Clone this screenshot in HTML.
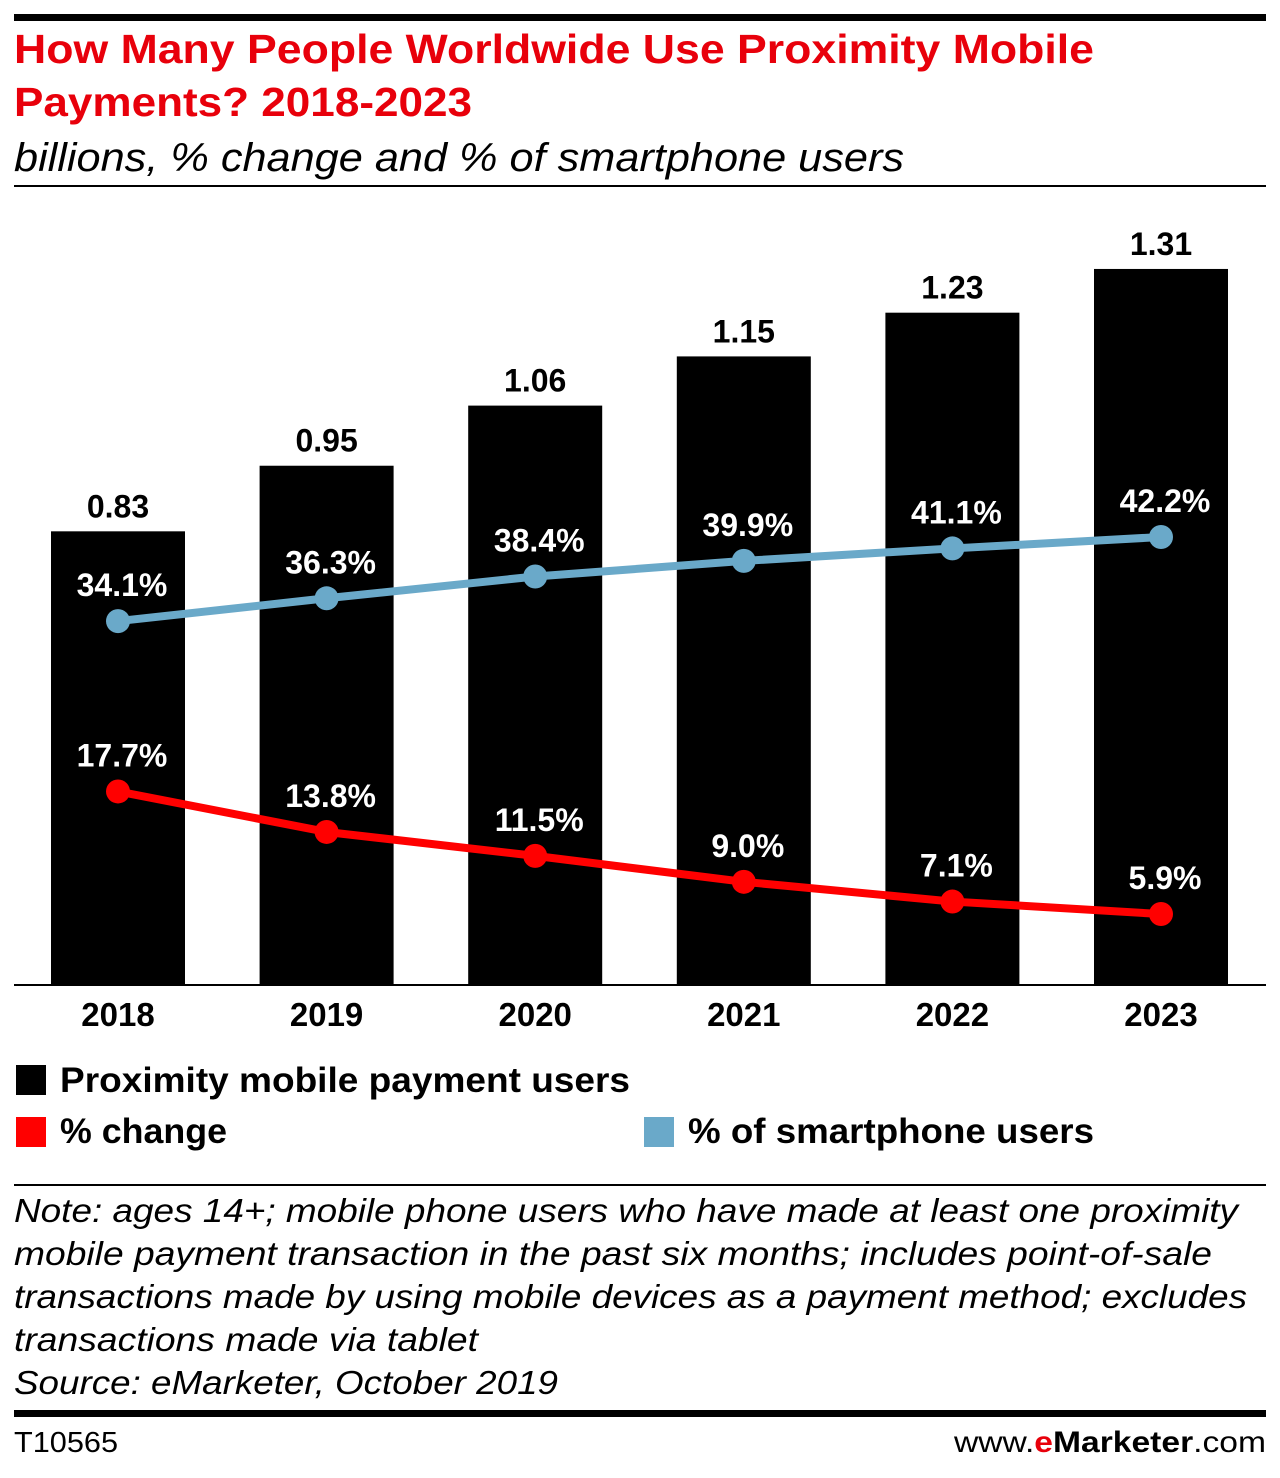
<!DOCTYPE html>
<html><head><meta charset="utf-8"><style>
body{margin:0;background:#fff}
svg{display:block;font-family:"Liberation Sans","DejaVu Sans",sans-serif}
</style></head><body>
<svg id="chart" width="1280" height="1478" viewBox="0 0 1280 1478" xmlns="http://www.w3.org/2000/svg">
<rect x="14" y="14" width="1252" height="7" fill="#000"/>
<text x="14" y="63" font-size="41" font-weight="bold" fill="#e8000b" textLength="1080" lengthAdjust="spacingAndGlyphs">How Many People Worldwide Use Proximity Mobile</text>
<text x="14" y="116" font-size="41" font-weight="bold" fill="#e8000b" textLength="458" lengthAdjust="spacingAndGlyphs">Payments? 2018-2023</text>
<text x="14" y="171" font-size="40" font-style="italic" fill="#000" textLength="890" lengthAdjust="spacingAndGlyphs">billions, % change and % of smartphone users</text>
<rect x="14" y="185" width="1252" height="2" fill="#000"/>
<g id="plot"></g>
<rect x="14" y="984" width="1252" height="2" fill="#000"/>
<rect x="16" y="1065" width="30" height="30" fill="#000"/>
<text x="60" y="1092" font-size="35" font-weight="bold" textLength="570" lengthAdjust="spacingAndGlyphs">Proximity mobile payment users</text>
<rect x="16" y="1117" width="30" height="30" fill="#ff0000"/>
<text x="60" y="1143" font-size="35" font-weight="bold" textLength="167" lengthAdjust="spacingAndGlyphs">% change</text>
<rect x="644" y="1117" width="30" height="30" fill="#6aa9c9"/>
<text x="688" y="1143" font-size="35" font-weight="bold" textLength="406" lengthAdjust="spacingAndGlyphs">% of smartphone users</text>
<rect x="14" y="1184" width="1252" height="2" fill="#000"/>
<g font-size="33" font-style="italic" fill="#000">
<text x="14" y="1222" textLength="1224" lengthAdjust="spacingAndGlyphs">Note: ages 14+; mobile phone users who have made at least one proximity</text>
<text x="14" y="1265" textLength="1198" lengthAdjust="spacingAndGlyphs">mobile payment transaction in the past six months; includes point-of-sale</text>
<text x="14" y="1308" textLength="1233" lengthAdjust="spacingAndGlyphs">transactions made by using mobile devices as a payment method; excludes</text>
<text x="14" y="1351" textLength="464" lengthAdjust="spacingAndGlyphs">transactions made via tablet</text>
<text x="14" y="1394" textLength="544" lengthAdjust="spacingAndGlyphs">Source: eMarketer, October 2019</text>
</g>
<rect x="14" y="1410" width="1252" height="7" fill="#000"/>
<text x="14" y="1452" font-size="29" textLength="104" lengthAdjust="spacingAndGlyphs">T10565</text>
<text x="1266" y="1452" font-size="30" text-anchor="end" textLength="312" lengthAdjust="spacingAndGlyphs">www.<tspan fill="#e8000b" font-weight="bold">e</tspan><tspan font-weight="bold">Marketer</tspan>.com</text>
</svg>
<script>
const years = ["2018","2019","2020","2021","2022","2023"];
const users = [0.83,0.95,1.06,1.15,1.23,1.31];
const userLabels = ["0.83","0.95","1.06","1.15","1.23","1.31"];
const smartphonePct = [34.1,36.3,38.4,39.9,41.1,42.2];
const changePct = [17.7,13.8,11.5,9.0,7.1,5.9];

const NS="http://www.w3.org/2000/svg";
const g=document.getElementById('plot');
const baseY=985, barW=134;
function xCenter(i){return 118+i*208.6;}
function yBar(v){return baseY-v*546.6;}
function yPct(v){return 975.3-v*10.386;}
function mk(tag,attrs,parent){const e=document.createElementNS(NS,tag);for(const k in attrs)e.setAttribute(k,attrs[k]);(parent||g).appendChild(e);return e;}

years.forEach((y,i)=>{
  const cx=xCenter(i), top=yBar(users[i]);
  const b=mk('rect',{x:cx-barW/2,y:top,width:barW,height:baseY-top,fill:'#000'});
  
  
  const t=mk('text',{x:cx,y:top-14,'font-size':32,'font-weight':'bold','text-anchor':'middle'});
  
  
  t.textContent=userLabels[i];
  const xl=mk('text',{x:cx,y:1026,'font-size':33,'font-weight':'bold','text-anchor':'middle'});
  
  
  xl.textContent=y;
});

function series(vals,color,name,fmt){
  const pts=vals.map((v,i)=>xCenter(i)+','+yPct(v)).join(' ');
  const pl=mk('polyline',{points:pts,fill:'none',stroke:color,'stroke-width':8,'stroke-linejoin':'round'});
  
  
  vals.forEach((v,i)=>{
    const c=mk('circle',{cx:xCenter(i),cy:yPct(v),r:12,fill:color});
    
    
    const t=mk('text',{x:xCenter(i)+4,y:yPct(v)-25,'font-size':32,'font-weight':'bold','text-anchor':'middle',fill:'#fff'});
    
    
    t.textContent=v.toFixed(1)+'%';
  });
}
series(smartphonePct,'#6aa9c9','smartphone-pct');
series(changePct,'#ff0000','change-pct');
</script>
</body></html>
